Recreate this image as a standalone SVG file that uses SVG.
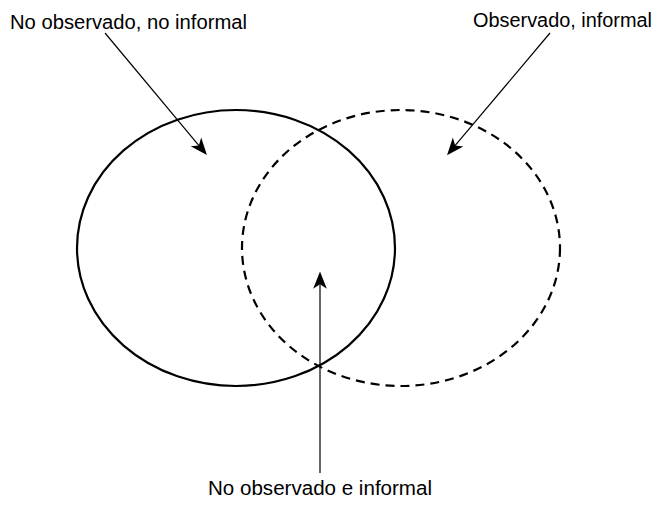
<svg xmlns="http://www.w3.org/2000/svg" width="667" height="505" viewBox="0 0 667 505">
  <style>
    .lbl { font-family: "Liberation Sans", Arial, sans-serif; font-size: 20px; fill: #000; }
    .set { fill: none; stroke: #000; stroke-width: 2.2; }
    .dash { stroke-dasharray: 9 6; }
    .arr { fill: none; stroke: #000; stroke-width: 1.2; marker-end: url(#head); }
  </style>
  <defs>
    <marker id="head" markerUnits="userSpaceOnUse" markerWidth="20" markerHeight="16" viewBox="-6 -7 17 14" refX="0" refY="0" orient="auto">
      <path d="M10,0 L-5,-6 L-1,0 L-5,6 Z" fill="#000"/>
    </marker>
  </defs>
  <rect width="667" height="505" fill="#fff"/>
  <g id="no-observado-no-informal">
    <ellipse class="set" cx="236" cy="248" rx="159" ry="138"/>
  </g>
  <g id="observado-informal">
    <ellipse class="set dash" cx="401" cy="248" rx="159" ry="138"/>
  </g>
  <g id="labels">
    <text class="lbl" x="10" y="29" textLength="237" lengthAdjust="spacingAndGlyphs">No observado, no informal</text>
    <text class="lbl" x="473" y="27" textLength="179" lengthAdjust="spacingAndGlyphs">Observado, informal</text>
    <text class="lbl" x="208" y="495" textLength="224" lengthAdjust="spacingAndGlyphs">No observado e informal</text>
  </g>
  <g id="connectors">
    <line class="arr" x1="105" y1="33" x2="199.6" y2="146.3"/>
    <line class="arr" x1="550" y1="33" x2="454.4" y2="146.4"/>
    <line class="arr" x1="320" y1="473" x2="320" y2="283"/>
  </g>
</svg>
